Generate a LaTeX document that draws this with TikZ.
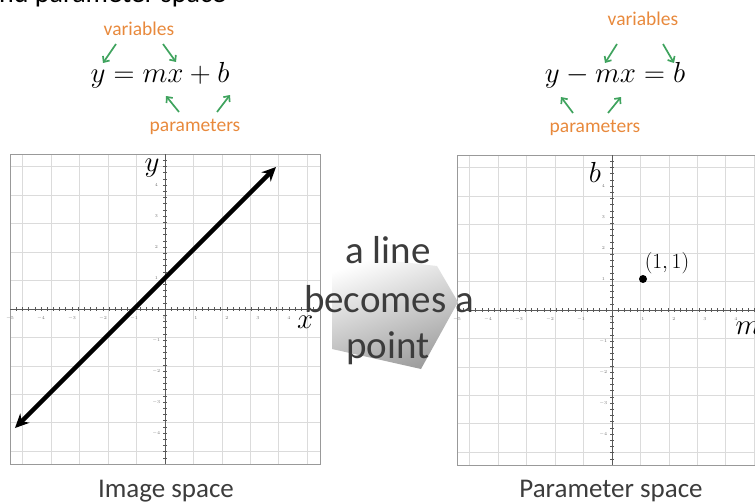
\RequirePackage{fix-cm}
\documentclass[tikz,border=0pt]{standalone}
\usepackage{fontspec}
\setmainfont{Carlito}
\usetikzlibrary{arrows.meta}
\definecolor{grn}{HTML}{3FA35E}
\definecolor{org}{HTML}{E8893C}
\definecolor{txt}{HTML}{3C3C3C}
\newcommand\myplot[2]{%
\begin{scope}[shift={(#1,#2)}, x=31pt, y=31pt]
  \draw[gridc] (-5,-5) grid (5,5);
  \draw[framec] (-5,-5) rectangle (5,5);
  \draw[axisc] (-5,0) -- (5,0);
  \draw[axisc] (0,-5) -- (0,5);
  \foreach \t in {-4.8,-4.6,...,4.9} {
    \draw[axisc] (\t,-0.05) -- (\t,0.05);
    \draw[axisc] (-0.05,\t) -- (0.05,\t);
  }
  \foreach \i in {-5,...,4} \node[ticklab, name=xt\i] at (\i,-0.3) {$\i$};
  \foreach \i in {-4,...,-1,1,2,3,4} \node[ticklab, name=yt\i] at (-0.28,\i) {$\i$};
\end{scope}}
\begin{document}
\begin{tikzpicture}[x=1pt,y=-1pt,
  gridc/.style={draw=black!14, line width=0.7pt},
  framec/.style={draw=black!40, line width=0.9pt},
  axisc/.style={draw=black!65, line width=0.6pt},
  ticklab/.style={font=\fontsize{4.5}{5}\selectfont, text=black!55, inner sep=0pt},
  eq/.style={font=\fontsize{29}{33}\selectfont, inner sep=0pt},
  axlab/.style={font=\fontsize{29}{33}\selectfont, inner sep=0pt},
  annot/.style={font=\fontsize{19.5}{22}\selectfont, text=org, inner sep=0pt},
  garrow/.style={draw=grn, line width=1.7pt, -{Straight Barb[length=4.5pt,width=8pt]}},
  bigtxt/.style={font=\fontsize{39}{44}\selectfont, text=txt, inner sep=0pt, anchor=base},
  caption/.style={font=\fontsize{27}{30}\selectfont, text=txt, inner sep=0pt, anchor=base}]
\useasboundingbox (0,0) rectangle (755,503);
\begin{scope}
\clip (0,0) rectangle (755,503);
\node[anchor=base east, font=\fontsize{28}{32}\selectfont, inner sep=0pt] (title) at (226,3) {Image and parameter space};

% left plot
\myplot{165}{309}
\begin{scope}[shift={(165,309)}, x=31pt, y=31pt]
  \coordinate (L1) at (-4.84,-3.84);
  \coordinate (L2) at (3.58,4.58);
  \draw[line width=4.3pt, {Stealth[length=14pt,width=13pt]}-{Stealth[length=14pt,width=13pt]}] (L1) -- (L2);
  \node[axlab] (ylab) at (-0.42,4.55) {$y$};
  \node[axlab] (xlab) at (4.52,-0.42) {$x$};
\end{scope}

% right plot
\myplot{612}{310}
\begin{scope}[shift={(612,310)}, x=31pt, y=31pt]
  \node[circle, fill=black, inner sep=0pt, minimum size=8pt] (pt) at (1,1) {};
  \node[anchor=west, font=\fontsize{21.5}{25}\selectfont, inner sep=0pt] (ptlab) at (1.05,1.5) {$(1,1)$};
  \node[axlab] (blab) at (-0.55,4.45) {$b$};
  \node[axlab] (mlab) at (4.39,-0.58) {$m$};
\end{scope}
\end{scope}

% block arrow
\shade[top color=white, bottom color=black!38, shading angle=20]
  (332,254) -- (437,266) -- (458,302) -- (421,369) -- (332,349) -- cycle;
\node[bigtxt] (t1) at (388,263) {a line};
\node[bigtxt] (t2) at (389,312) {becomes a};
\node[bigtxt] (t3) at (388,358) {point};

% left equation
\node[eq] (eqL) at (160,75) {$y = mx + b$};
\node[annot] (varL) at (139,29) {variables};
\node[annot] (parL) at (195,127) {parameters};
\coordinate (a1s) at (116,44); \coordinate (a1e) at (103,63);
\coordinate (a2s) at (163,44); \coordinate (a2e) at (176,62);
\coordinate (a3s) at (179,112); \coordinate (a3e) at (166,96);
\coordinate (a4s) at (217,112); \coordinate (a4e) at (230,95);
\draw[garrow] (a1s) -- (a1e);
\draw[garrow] (a2s) -- (a2e);
\draw[garrow] (a3s) -- (a3e);
\draw[garrow] (a4s) -- (a4e);

% right equation
\node[eq] (eqR) at (615,75) {$y - mx = b$};
\node[annot] (varR) at (643,19) {variables};
\node[annot] (parR) at (595,128) {parameters};
\coordinate (b1s) at (617,44); \coordinate (b1e) at (605,63);
\coordinate (b2s) at (663,44); \coordinate (b2e) at (674,63);
\coordinate (b3s) at (573,113); \coordinate (b3e) at (561,97);
\coordinate (b4s) at (608,113); \coordinate (b4e) at (621,97);
\draw[garrow] (b1s) -- (b1e);
\draw[garrow] (b2s) -- (b2e);
\draw[garrow] (b3s) -- (b3e);
\draw[garrow] (b4s) -- (b4e);

% captions
\node[caption] (capL) at (166,497) {Image space};
\node[caption] (capR) at (611,497) {Parameter space};
\end{tikzpicture}
\end{document}
